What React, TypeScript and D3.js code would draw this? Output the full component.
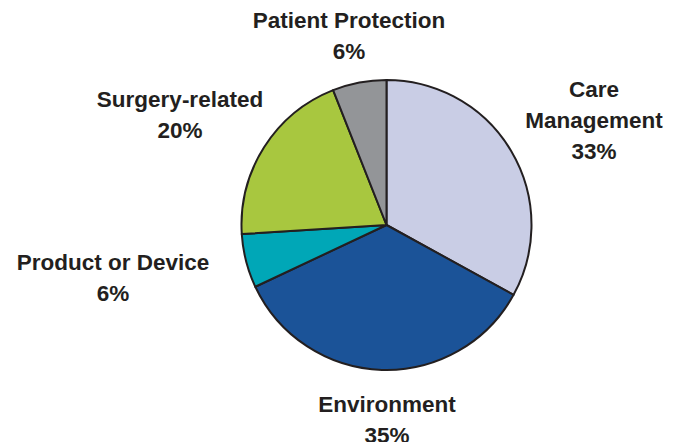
import React from "react";
import * as d3 from "d3";

const categories = ["Care Management", "Environment", "Product or Device", "Surgery-related", "Patient Protection"];
const values = [33, 35, 6, 20, 6];
const colors = ["#c9cde5", "#1b5398", "#00a7b7", "#a8c73f", "#939598"];

// label layout: lines and anchor (center x, first baseline y)
const labelLines = [
  ["Care", "Management", "33%"],
  ["Environment", "35%"],
  ["Product or Device", "6%"],
  ["Surgery-related", "20%"],
  ["Patient Protection", "6%"],
];
const labelAnchors: [number, number][] = [
  [594, 97],
  [387, 412],
  [113, 270],
  [180, 107],
  [349, 28],
];

export default function App() {
  const W = 683, H = 442;
  const cx = 386.5, cy = 225, r = 145;
  const pie = d3.pie<number>().sort(null).value((d) => d).startAngle(0).endAngle(2 * Math.PI);
  const arcs = pie(values);
  const arc = d3.arc<d3.PieArcDatum<number>>().innerRadius(0).outerRadius(r);
  const lh = 31;
  return (
    <svg width={W} height={H} style={{ position: "absolute", left: 0, top: 0, background: "#fff" }}>
      <g transform={`translate(${cx},${cy})`}>
        {arcs.map((a, i) => (
          <path key={i} d={arc(a) || ""} fill={colors[i]} stroke="#231f20" strokeWidth={2} strokeLinejoin="round" />
        ))}
      </g>
      {labelLines.map((lines, i) => (
        <text
          key={i}
          textAnchor="middle"
          fontFamily="Liberation Sans, Arial, sans-serif"
          fontWeight="bold"
          fontSize={22.5}
          fill="#231f20"
        >
          {lines.map((l, j) => (
            <tspan key={j} x={labelAnchors[i][0]} y={labelAnchors[i][1] + j * lh}>
              {l}
            </tspan>
          ))}
        </text>
      ))}
    </svg>
  );
}
